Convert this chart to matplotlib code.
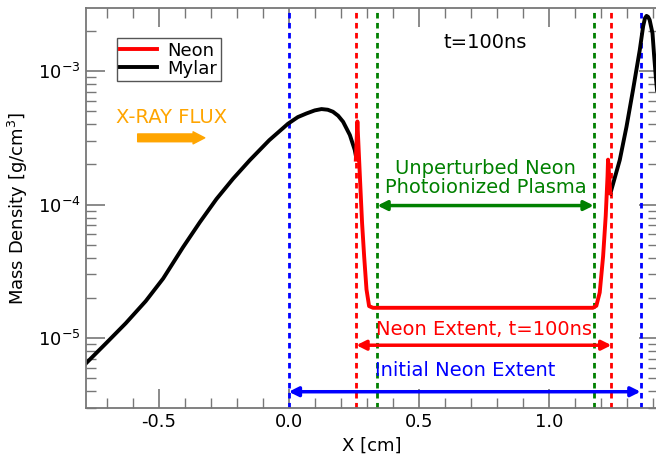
import numpy as np
import matplotlib
matplotlib.use('Agg')
import matplotlib.pyplot as plt
from matplotlib.ticker import MultipleLocator, FormatStrFormatter, LogLocator

plt.rcParams['font.family'] = ['DejaVu Sans']
plt.rcParams['axes.unicode_minus'] = False

# Mylar density (left foil), x in cm, log10 of density in g/cm^3
mylar_left_x = [-0.781, -0.704, -0.627, -0.550, -0.483, -0.407, -0.342, -0.278, -0.214,
                -0.150, -0.075, -0.003, 0.035, 0.068, 0.100, 0.126, 0.150, 0.170,
                0.190, 0.209, 0.235, 0.254, 0.260]
mylar_left_log = [-5.190, -5.040, -4.888, -4.722, -4.553, -4.320, -4.132, -3.958, -3.806,
                  -3.668, -3.518, -3.395, -3.345, -3.318, -3.295, -3.285, -3.290, -3.305,
                  -3.335, -3.380, -3.479, -3.592, -3.654]

# Mylar density (right foil)
mylar_right_x = [1.237, 1.273, 1.299, 1.324, 1.350, 1.363, 1.370, 1.376, 1.382, 1.388,
                 1.399, 1.405, 1.412, 1.42]
mylar_right_log = [-3.916, -3.667, -3.417, -3.142, -2.843, -2.665, -2.605, -2.588,
                   -2.595, -2.618, -2.718, -2.88, -3.05, -3.22]

# Neon density
neon_x = [0.258, 0.264, 0.270, 0.276, 0.282, 0.290, 0.299, 0.309, 0.324, 1.170,
          1.183, 1.196, 1.209, 1.219, 1.226, 1.228, 1.237]
neon_rho = [2.17e-4, 4.19e-4, 2.31e-4, 1.29e-4, 7.3e-5, 4.1e-5, 2.32e-5, 1.74e-5,
            1.69e-5, 1.69e-5, 1.75e-5, 2.2e-5, 4.1e-5, 8.2e-5, 1.63e-4, 2.17e-4,
            1.22e-4]

# marker positions (cm)
initial_extent = [0.0, 1.353]
neon_extent = [0.26, 1.241]
unperturbed = [0.341, 1.173]

fig = plt.figure(figsize=(6.56, 4.55), dpi=100)
ax = fig.add_axes([0.131, 0.103, 0.872, 0.879])

dot = (0, (2.0, 1.6))
for xv in initial_extent:
    ax.axvline(xv, color='blue', lw=2, ls=dot)
for xv in neon_extent:
    ax.axvline(xv, color='red', lw=2, ls=dot)
for xv in unperturbed:
    ax.axvline(xv, color='green', lw=2, ls=dot)

ax.plot(mylar_left_x, 10 ** np.array(mylar_left_log), color='black', lw=2.8,
        solid_joinstyle='round')
ax.plot(mylar_right_x, 10 ** np.array(mylar_right_log), color='black', lw=2.8,
        solid_joinstyle='round')
ax.plot(neon_x, neon_rho, color='red', lw=2.8, solid_joinstyle='round')

# legend handles
h1, = ax.plot([], [], color='red', lw=2.8, label='Neon')
h2, = ax.plot([], [], color='black', lw=2.8, label='Mylar')
leg = ax.legend(handles=[h1, h2], loc='upper left', bbox_to_anchor=(0.054, 0.925),
                fontsize=13, fancybox=False, framealpha=1, edgecolor='#555555',
                handlelength=2.0, borderpad=0.2, labelspacing=0.0, handletextpad=0.6,
                borderaxespad=0)
leg.get_frame().set_linewidth(1.0)

# double arrows
def span(x0, x1, y, c):
    ax.annotate('', xy=(x1, y), xytext=(x0, y),
                arrowprops=dict(arrowstyle='<|-|>', color=c, lw=2.5,
                                mutation_scale=14, shrinkA=0, shrinkB=0))

span(unperturbed[0], unperturbed[1], 9.84e-5, 'green')
span(neon_extent[0], neon_extent[1], 8.87e-6, 'red')
span(initial_extent[0], initial_extent[1], 3.98e-6, 'blue')

ax.text(0.757, 10**-3.80, 'Unperturbed Neon\nPhotoionized Plasma', color='green',
        fontsize=14, ha='center', va='center', linespacing=1.0)
ax.text(0.75, 10**-4.933, 'Neon Extent, t=100ns', color='red', fontsize=14,
        ha='center', va='center')
ax.text(0.677, 10**-5.239, 'Initial Neon Extent', color='blue', fontsize=14,
        ha='center', va='center')
ax.text(0.754, 10**-2.784, 't=100ns', color='black', fontsize=14,
        ha='center', va='center')

ax.text(-0.452, 4.45e-4, 'X-RAY FLUX', color='orange', fontsize=14,
        ha='center', va='center')
ax.annotate('', xy=(-0.323, 3.16e-4), xytext=(-0.581, 3.16e-4),
            arrowprops=dict(arrowstyle='simple,head_length=0.6,head_width=0.62,tail_width=0.4',
                            color='orange', mutation_scale=14, shrinkA=0, shrinkB=0))

ax.set_yscale('log')
ax.set_xlim(-0.78, 1.42)
ax.set_ylim(3.0e-6, 2.95e-3)

ax.xaxis.set_major_locator(MultipleLocator(0.5))
ax.xaxis.set_minor_locator(MultipleLocator(0.1))
ax.xaxis.set_major_formatter(FormatStrFormatter('%.1f'))
ax.yaxis.set_major_locator(LogLocator(base=10, numticks=10))
ax.yaxis.set_minor_locator(LogLocator(base=10, subs=np.arange(2, 10), numticks=10))

for s in ax.spines.values():
    s.set_color('#777777')
    s.set_linewidth(1.3)
ax.tick_params(which='both', direction='in', top=True, right=True, color='#777777',
               labelsize=13)
ax.tick_params(which='major', length=14, width=1.2)
ax.tick_params(which='minor', length=7.5, width=1.0)

ax.set_xlabel('X [cm]', fontsize=13, labelpad=4)
ax.set_ylabel('Mass Density [g/cm$^3$]', fontsize=13, labelpad=6)

fig.savefig('out.png', dpi=100)
